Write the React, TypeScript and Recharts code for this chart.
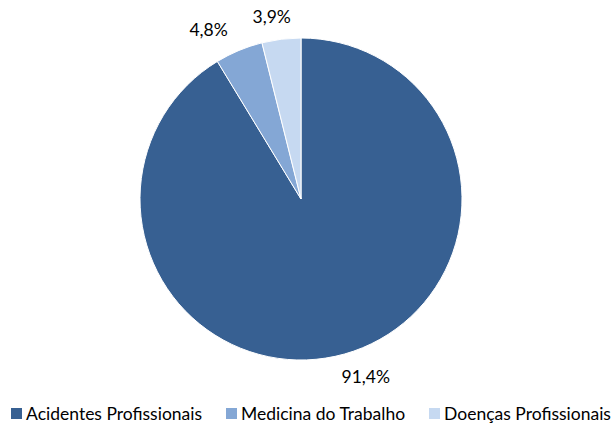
import React from "react";
import { PieChart, Pie, Cell, Legend } from "recharts";

const categories = ["Acidentes Profissionais", "Medicina do Trabalho", "Doenças Profissionais"];
const values = [91.4, 4.8, 3.9];
const valueLabels = ["91,4%", "4,8%", "3,9%"];
const colors = ["#376092", "#84A7D5", "#C6D9F1"];

const data = categories.map((name, i) => ({ name, value: values[i], label: valueLabels[i] }));

const FONT = "Lato, 'Liberation Sans', sans-serif";

const RAD = Math.PI / 180;

const renderLabel = (props: any) => {
  const { cx, cy, outerRadius, midAngle, index } = props;
  const r = outerRadius + 23;
  const c = Math.cos(-midAngle * RAD);
  const s = Math.sin(-midAngle * RAD);
  const x = cx + r * c + c * 56;
  const y = cy + r * s;
  return (
    <text x={x} y={y} textAnchor="middle" dominantBaseline="central" fill="#000" fontSize={17.5} fontFamily={FONT}>
      {valueLabels[index]}
    </text>
  );
};

const renderLegend = () => {
  return (
    <div style={{ display: "flex", justifyContent: "center", gap: 24, paddingLeft: 10, fontFamily: FONT, fontSize: 17.5, color: "#000" }}>
      {categories.map((name, i) => (
        <div key={name} style={{ display: "flex", alignItems: "center" }}>
          <span style={{ display: "inline-block", width: 11, height: 11, background: colors[i], marginRight: 4 }} />
          <span>{name}</span>
        </div>
      ))}
    </div>
  );
};

export default function App() {
  return (
    <div style={{ position: "absolute", left: 0, top: 0, width: 612, height: 425, background: "#fff" }}>
      <PieChart width={612} height={425} margin={{ top: 0, right: 0, bottom: 0, left: 0 }}>
        <Pie
          data={data}
          dataKey="value"
          nameKey="name"
          cx={301}
          cy={199}
          outerRadius={161}
          startAngle={90}
          endAngle={-270}
          stroke="#fff"
          strokeWidth={1}
          label={renderLabel}
          labelLine={false}
          isAnimationActive={false}
        >
          {data.map((d, i) => (
            <Cell key={d.name} fill={colors[i]} />
          ))}
        </Pie>
        <Legend
          verticalAlign="bottom"
          align="center"
          content={renderLegend}
          wrapperStyle={{ bottom: 1, left: 0, width: 612 }}
        />
      </PieChart>
    </div>
  );
}
